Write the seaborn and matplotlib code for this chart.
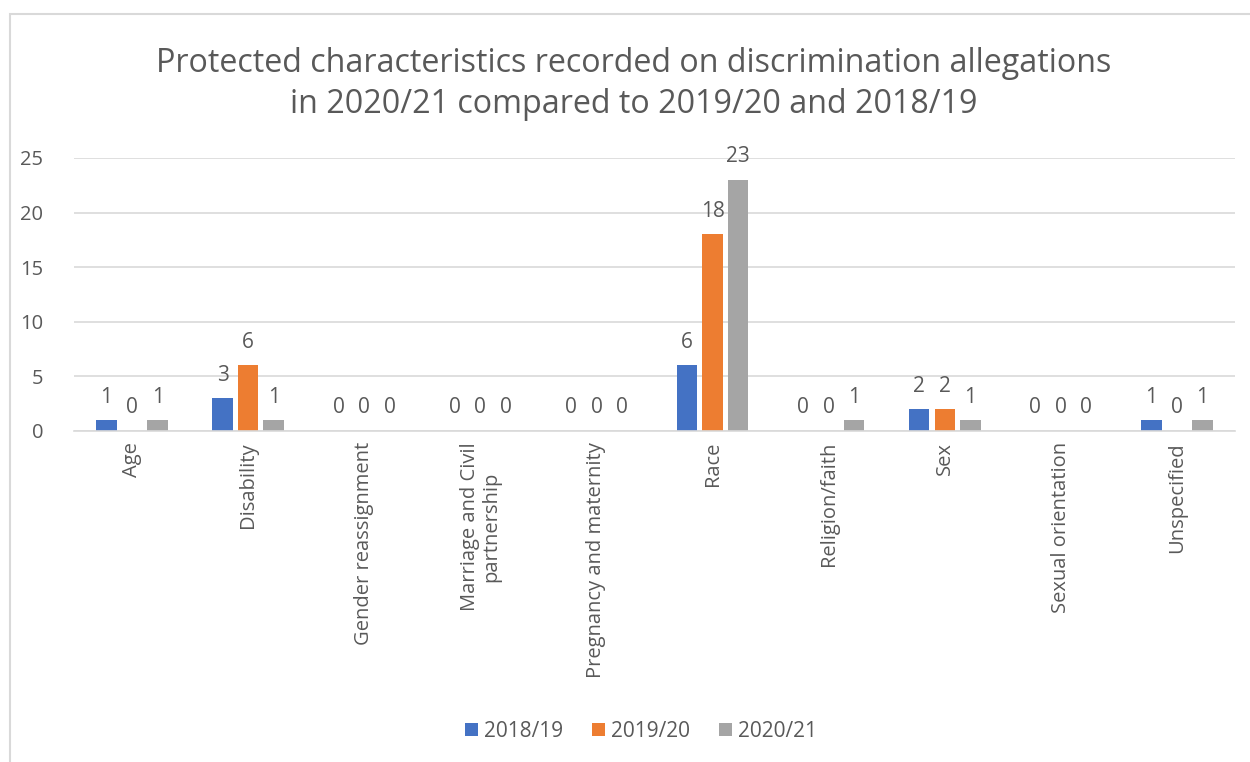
import matplotlib
matplotlib.use("Agg")
import matplotlib.pyplot as plt
import seaborn as sns
import pandas as pd
from matplotlib.patches import Rectangle

categories = ["Age", "Disability", "Gender reassignment", "Marriage and Civil\npartnership",
              "Pregnancy and maternity", "Race", "Religion/faith", "Sex",
              "Sexual orientation", "Unspecified"]
years = ["2018/19", "2019/20", "2020/21"]
v2018 = [1, 3, 0, 0, 0, 6, 0, 2, 0, 1]
v2019 = [0, 6, 0, 0, 0, 18, 0, 2, 0, 0]
v2020 = [1, 1, 0, 0, 0, 23, 1, 1, 0, 1]
colors = ["#4472C4", "#ED7D31", "#A5A5A5"]

rows = []
for y, vals in zip(years, [v2018, v2019, v2020]):
    for c, v in zip(categories, vals):
        rows.append({"cat": c, "year": y, "val": v})
df = pd.DataFrame(rows)

sns.set_theme(style="white")
plt.rcParams["font.family"] = ["Open Sans", "DejaVu Sans"]
txt = "#595959"

fig = plt.figure(figsize=(12.5, 7.62), dpi=100)
ax = fig.add_axes([0.0592, 0.4344, 0.9288, 0.3583])
sns.barplot(data=df, x="cat", y="val", hue="year", palette=colors, width=0.66, gap=0.2,
            ax=ax, saturation=1, legend=True, linewidth=0)

ax.set_ylim(0, 25)
ax.set_xlim(-0.5, 9.5)
ax.set_yticks([0, 5, 10, 15, 20, 25])
ax.yaxis.grid(True, color="#D9D9D9", linewidth=1.2)
ax.set_axisbelow(True)
for s in ["top", "right", "left"]:
    ax.spines[s].set_visible(False)
ax.spines["bottom"].set_color("#D9D9D9")
ax.spines["bottom"].set_linewidth(1.2)
ax.tick_params(axis="both", length=0, labelsize=14.5, colors=txt)
ax.tick_params(axis="y", pad=22)
ax.tick_params(axis="x", pad=8)
ax.set_xticks(range(len(categories)))
ax.set_xticklabels(categories, rotation=90, va="top", ha="center", color=txt, fontsize=14.5,
                   linespacing=1.1)
ax.set_xlabel("")
ax.set_ylabel("")

for cont in ax.containers:
    ax.bar_label(cont, labels=[f"{int(b.get_height())}" for b in cont], padding=9,
                 fontsize=15, color=txt)

handles, labels = ax.get_legend_handles_labels()
ax.legend_.remove()
fig.legend(handles, labels, loc="center", bbox_to_anchor=(0.513, 0.04), ncol=3, frameon=False,
           fontsize=15, handlelength=0.6, handleheight=0.6, handletextpad=0.3,
           columnspacing=1.4, labelcolor=txt)

fig.text(0.507, 0.89, "Protected characteristics recorded on discrimination allegations\nin 2020/21 compared to 2019/20 and 2018/19",
         ha="center", va="center", fontsize=23.2, color=txt, linespacing=1.3)

fig.patches.append(Rectangle((10 / 1250, -0.05), 1.2, 1 - 14 / 762 + 0.05, transform=fig.transFigure,
                             fill=False, edgecolor="#D9D9D9", linewidth=1.5))

fig.savefig("out.png", dpi=100, facecolor="white")
